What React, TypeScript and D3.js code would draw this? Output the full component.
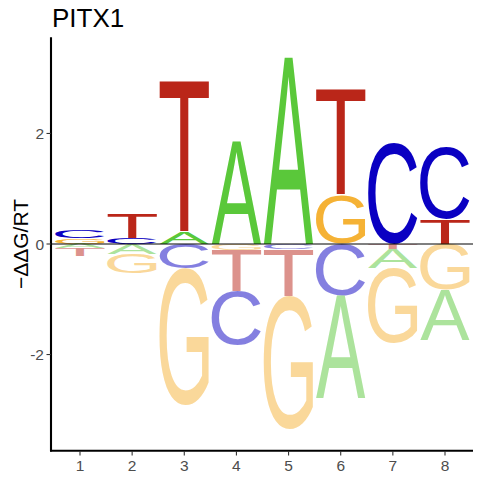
import React, { useMemo } from 'react';
import * as d3 from 'd3';

const positions = [1, 2, 3, 4, 5, 6, 7, 8];
const valA = [-0.08, -0.18, 0.2, 1.85, 3.38, -1.85, -0.34, -0.9];
const valC = [0.13, 0.11, -0.44, -0.97, -0.1, -0.93, 1.83, 1.31];
const valG = [0.1, -0.35, -2.48, -0.11, -2.4, 0.88, -1.35, -0.83];
const valT = [-0.14, 0.45, 2.75, -0.75, -0.85, 1.92, -0.1, 0.45];
const bases = ['A', 'C', 'G', 'T'];
const baseColors = ['#5AC83A', '#0A00C2', '#F5B235', '#BA2619'];
const yTicks = [-2, 0, 2];
const title = 'PITX1';
const yLabel = '−ΔΔG/RT';

const FONT = '"Liberation Sans", Arial, sans-serif';

type Metric = { left: number; asc: number; w: number; h: number };

function useMetrics(): Record<string, Metric> {
  return useMemo(() => {
    const canvas = document.createElement('canvas');
    const ctx = canvas.getContext('2d')!;
    ctx.font = `100px ${FONT}`;
    const out: Record<string, Metric> = {};
    bases.forEach((b) => {
      const m = ctx.measureText(b);
      out[b] = {
        left: m.actualBoundingBoxLeft,
        asc: m.actualBoundingBoxAscent,
        w: m.actualBoundingBoxLeft + m.actualBoundingBoxRight,
        h: m.actualBoundingBoxAscent + m.actualBoundingBoxDescent,
      };
    });
    return out;
  }, []);
}

export default function App() {
  const metrics = useMetrics();
  const W = 480;
  const H = 480;
  const x = d3.scaleLinear().domain([0.444, 8.537]).range([51, 473]);
  const y = d3.scaleLinear().domain([-3.74, 3.74]).range([450.7, 37.3]);
  const step = x(2) - x(1);
  const lw = step * 0.95;
  const values = [valA, valC, valG, valT];

  const glyphs: React.ReactNode[] = [];
  positions.forEach((p, i) => {
    const items = bases.map((b, k) => ({ b, k, v: values[k][i] }));
    const pos = items.filter((d) => d.v > 0).sort((a, b) => a.v - b.v);
    const neg = items.filter((d) => d.v < 0).sort((a, b) => b.v - a.v);
    let acc = 0;
    pos.forEach((d) => {
      const y0 = acc;
      const y1 = acc + d.v;
      acc = y1;
      glyphs.push(drawGlyph(d.b, d.k, x(p) - lw / 2, y(y1), lw, y(y0) - y(y1), 1, `p${i}${d.b}`));
    });
    acc = 0;
    neg.forEach((d) => {
      const y0 = acc;
      const y1 = acc + d.v;
      acc = y1;
      glyphs.push(drawGlyph(d.b, d.k, x(p) - lw / 2, y(y0), lw, y(y1) - y(y0), 0.5, `n${i}${d.b}`));
    });
  });

  function drawGlyph(b: string, k: number, bx: number, by: number, bw: number, bh: number, op: number, key: string) {
    const m = metrics[b];
    const sx = bw / m.w;
    const sy = bh / m.h;
    return (
      <text
        key={key}
        x={0}
        y={0}
        fontFamily={FONT}
        fontSize={100}
        fill={baseColors[k]}
        fillOpacity={op}
        transform={`translate(${bx},${by}) scale(${sx},${sy}) translate(${m.left},${m.asc})`}
      >
        {b}
      </text>
    );
  }

  return (
    <svg width={W} height={H} style={{ position: 'absolute', left: 0, top: 0, background: '#fff' }}>
      <rect x={0} y={0} width={W} height={H} fill="#fff" />
      {glyphs}
      <line x1={51} x2={473} y1={y(0)} y2={y(0)} stroke="#000" strokeWidth={1} />
      <line x1={51} x2={51} y1={37.3} y2={451.5} stroke="#000" strokeWidth={2.1} />
      <line x1={50} x2={473} y1={450.7} y2={450.7} stroke="#000" strokeWidth={2.1} />
      {yTicks.map((t) => (
        <g key={t}>
          <line x1={46.5} x2={51} y1={y(t)} y2={y(t)} stroke="#333" strokeWidth={1.1} />
          <text x={44} y={y(t)} dy="0.36em" textAnchor="end" fontFamily={FONT} fontSize={15.5} fill="#4D4D4D">
            {t < 0 ? `-${Math.abs(t)}` : t}
          </text>
        </g>
      ))}
      {positions.map((p) => (
        <g key={p}>
          <line x1={x(p)} x2={x(p)} y1={451} y2={455.5} stroke="#333" strokeWidth={1.1} />
          <text x={x(p)} y={471} textAnchor="middle" fontFamily={FONT} fontSize={15.5} fill="#4D4D4D">
            {p}
          </text>
        </g>
      ))}
      <text x={52} y={27} fontFamily={FONT} fontSize={26} fill="#000">
        {title}
      </text>
      <text
        transform={`translate(28,${y(0)}) rotate(-90)`}
        textAnchor="middle"
        fontFamily={FONT}
        fontSize={21}
        fill="#000"
      >
        {yLabel}
      </text>
    </svg>
  );
}
